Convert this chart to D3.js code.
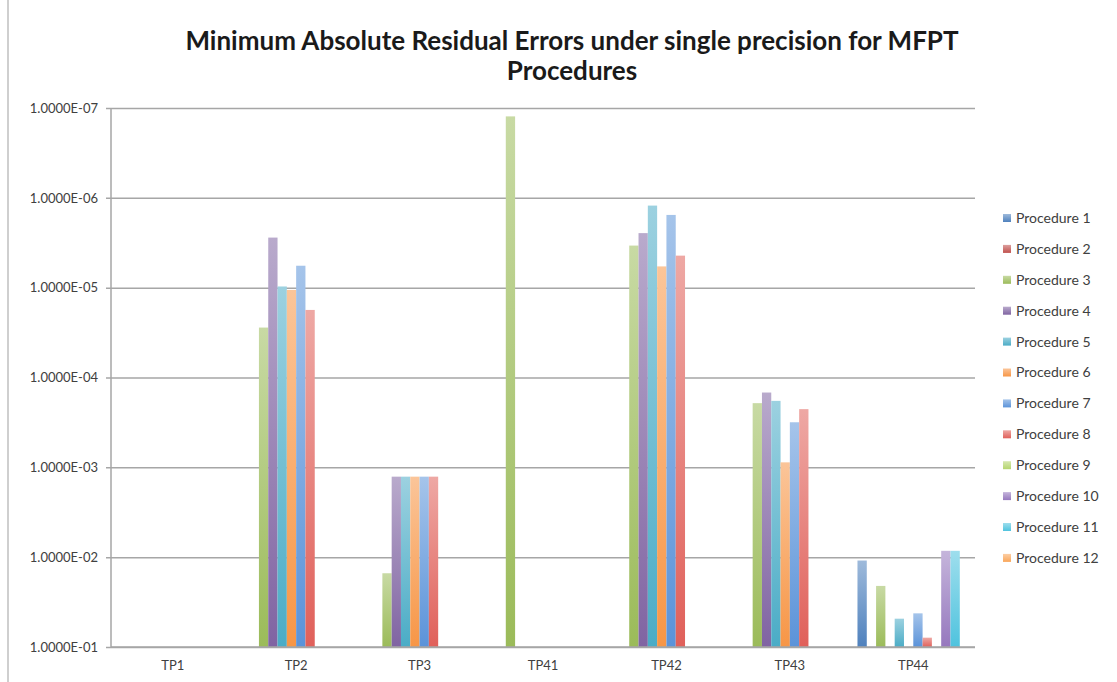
<!DOCTYPE html>
<html>
<head>
<meta charset="utf-8">
<script src="https://cdn.jsdelivr.net/npm/d3@7"></script>
<style>
  html, body { margin: 0; padding: 0; background: #ffffff; }
  svg { display: block; }
</style>
</head>
<body>
<svg id="chart" width="1117" height="682"></svg>
<script>
// ---- data ----
const categories = ["TP1", "TP2", "TP3", "TP41", "TP42", "TP43", "TP44"];
const procedures = ["Procedure 1", "Procedure 2", "Procedure 3", "Procedure 4", "Procedure 5", "Procedure 6",
                    "Procedure 7", "Procedure 8", "Procedure 9", "Procedure 10", "Procedure 11", "Procedure 12"];
const proc1  = [null, null,    null,    null,    null,    null,    0.0109];
const proc2  = [null, null,    null,    null,    null,    null,    null];
const proc3  = [null, 2.78e-5, 0.0151,  1.24e-7, 3.4e-6,  1.93e-4, 0.0209];
const proc4  = [null, 2.77e-6, 1.27e-3, null,    2.47e-6, 1.47e-4, null];
const proc5  = [null, 9.7e-6,  1.27e-3, null,    1.22e-6, 1.82e-4, 0.0484];
const proc6  = [null, 1.06e-5, 1.27e-3, null,    5.8e-6,  8.8e-4,  null];
const proc7  = [null, 5.7e-6,  1.27e-3, null,    1.55e-6, 3.15e-4, 0.0422];
const proc8  = [null, 1.77e-5, 1.27e-3, null,    4.4e-6,  2.25e-4, 0.0787];
const proc9  = [null, null,    null,    null,    null,    null,    null];
const proc10 = [null, null,    null,    null,    null,    null,    8.5e-3];
const proc11 = [null, null,    null,    null,    null,    null,    8.5e-3];
const proc12 = [null, null,    null,    null,    null,    null,    null];
const seriesValues = [proc1, proc2, proc3, proc4, proc5, proc6, proc7, proc8, proc9, proc10, proc11, proc12];
const yTicks = [1e-1, 1e-2, 1e-3, 1e-4, 1e-5, 1e-6, 1e-7];
const colors = ["#4F81BD", "#C0504D", "#9BBB59", "#8064A2", "#4BACC6", "#F79646",
                "#5B93D9", "#E0605A", "#B5D56E", "#9678BE", "#4FC3DE", "#F9A65A"];
const titleLines = ["Minimum Absolute Residual Errors under single precision for MFPT", "Procedures"];

// ---- layout ----
const svg = d3.select("#chart");
const plot = { left: 111, right: 975, top: 108, bottom: 647 };
const textColor = "#404040";
const font = "Lato, 'Open Sans', sans-serif";

const x0 = d3.scaleBand().domain(categories).range([plot.left, plot.right]).paddingInner(0).paddingOuter(0);
const x1 = d3.scaleBand().domain(procedures).range([0, x0.bandwidth()]).paddingInner(0).paddingOuter(0.635);
const y = d3.scaleLog().domain([1e-1, 1e-7]).range([plot.bottom, plot.top]);

const fmt = v => {
  const e = Math.round(Math.log10(v));
  const s = e < 0 ? "-" : "+";
  return "1.0000E" + s + String(Math.abs(e)).padStart(2, "0");
};

// left frame line
svg.append("line").attr("x1", 8).attr("x2", 8).attr("y1", 0).attr("y2", 682)
  .attr("stroke", "#cfcfcf").attr("stroke-width", 2);

// gradients
const defs = svg.append("defs");
colors.forEach((c, i) => {
  const g = defs.append("linearGradient").attr("id", "grad" + i)
    .attr("x1", 0).attr("y1", 0).attr("x2", 0).attr("y2", 1);
  g.append("stop").attr("offset", "0%").attr("stop-color", d3.interpolateRgb(c, "#ffffff")(0.45));
  g.append("stop").attr("offset", "100%").attr("stop-color", c);
});

// gridlines + y axis
const yAxis = d3.axisLeft(y).tickValues(yTicks).tickFormat(fmt)
  .tickSize(-(plot.right - plot.left)).tickSizeOuter(0).tickPadding(13);
const gy = svg.append("g").attr("transform", `translate(${plot.left},0)`).call(yAxis);
gy.select(".domain").remove();
gy.selectAll(".tick line").attr("stroke", "#a6a6a6").attr("stroke-width", 1.5).attr("x1", -5);
gy.selectAll(".tick text").attr("fill", textColor).style("font-family", font).style("font-size", "13px");

// y axis line
svg.append("line").attr("x1", plot.left).attr("x2", plot.left).attr("y1", plot.top).attr("y2", plot.bottom)
  .attr("stroke", "#a6a6a6").attr("stroke-width", 1.5);

// bars
const barData = [];
seriesValues.forEach((vals, si) => {
  vals.forEach((v, ci) => { if (v != null) barData.push({ cat: categories[ci], proc: procedures[si], si, v }); });
});
svg.append("g").selectAll("rect").data(barData).join("rect")
  .attr("x", d => x0(d.cat) + x1(d.proc))
  .attr("width", x1.bandwidth())
  .attr("y", d => y(d.v))
  .attr("height", d => plot.bottom - y(d.v))
  .attr("fill", d => `url(#grad${d.si})`);

// bottom axis line
svg.append("line").attr("x1", plot.left).attr("x2", plot.right).attr("y1", plot.bottom).attr("y2", plot.bottom)
  .attr("stroke", "#a6a6a6").attr("stroke-width", 1.5);

// x labels
const xAxis = d3.axisBottom(x0).tickSize(0).tickPadding(14);
const gx = svg.append("g").attr("transform", `translate(0,${plot.bottom})`).call(xAxis);
gx.select(".domain").remove();
gx.selectAll(".tick text").attr("fill", textColor).style("font-family", font).style("font-size", "13px");

// title (fit first line to the reference's width)
const title = svg.append("g");
const tl = title.selectAll("text").data(titleLines).join("text")
  .attr("x", 572).attr("y", (d, i) => 50 + i * 30)
  .attr("text-anchor", "middle")
  .attr("fill", "#1a1a1a")
  .style("font-family", font).style("font-weight", "bold").style("font-size", "22px")
  .text(d => d);
const w0 = tl.node().getComputedTextLength();
const fs = Math.min(26, 22 * 778 / w0);
tl.style("font-size", fs + "px");

// legend
const legend = svg.append("g").attr("transform", "translate(1003,218)");
const items = legend.selectAll("g").data(procedures).join("g")
  .attr("transform", (d, i) => `translate(0,${i * 30.9})`);
items.append("rect").attr("x", 0).attr("y", -4).attr("width", 8).attr("height", 8)
  .attr("fill", (d, i) => `url(#grad${i})`);
items.append("text").attr("x", 13).attr("y", 0).attr("dy", "0.35em")
  .attr("fill", textColor).style("font-family", font).style("font-size", "14px")
  .text(d => d);
</script>
</body>
</html>
